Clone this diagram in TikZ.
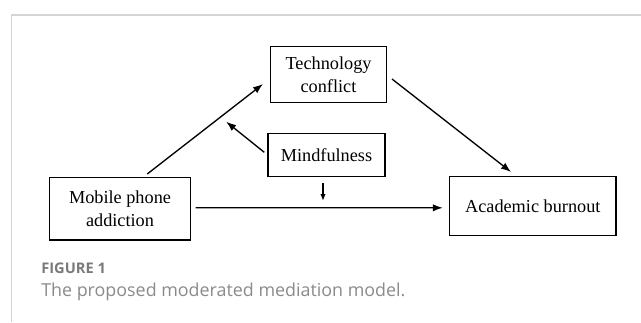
\documentclass[tikz,border=0pt]{standalone}
\usepackage{fontspec}
\setmainfont{Liberation Serif}
\newfontfamily\capfont{Open Sans}
\usetikzlibrary{arrows.meta}
\definecolor{frame}{HTML}{D4D4D4}
\definecolor{capgray}{HTML}{8A8A8A}
\definecolor{figgray}{HTML}{7A7A7A}
\begin{document}
\begin{tikzpicture}[x=0.75pt,y=-0.75pt,
  box/.style={draw,line width=1.1pt,inner sep=0pt,align=center,font=\fontsize{13.7}{17.5}\selectfont},
  arr/.style={line width=1pt,-{Latex[length=7.5pt,width=5.5pt]}},
  smallarr/.style={line width=0.8pt,-{Latex[length=5pt,width=4pt]}}]
\useasboundingbox (0,0) rectangle (641,322);
\draw[frame,line width=0.9pt] (11.5,322) -- (11.5,15) -- (641,15);
\node[box,minimum width=105.75pt,minimum height=47pt] (mob) at (120,208.7) {Mobile phone\\addiction};
\node[box,minimum width=86.8pt,minimum height=42pt] (tech) at (328.5,74.7) {Technology\\conflict};
\node[box,minimum width=87.75pt,minimum height=32.5pt] (mind) at (326.5,155) {Mindfulness};
\node[box,minimum width=124.9pt,minimum height=44pt] (acad) at (532.8,206) {Academic burnout};
\coordinate (a1s) at ([shift={(27.2,-2.6)}]mob.north);
\coordinate (a1e) at ([shift={(-6.9,9.3)}]tech.west);
\coordinate (a2s) at ([shift={(-3,-2.7)}]mind.west);
\coordinate (a2e) at ([shift={(-41.1,-33.3)}]mind.west);
\coordinate (a3s) at ([shift={(4.9,4.3)}]tech.east);
\coordinate (a3e) at ([shift={(-21.8,-4)}]acad.north);
\coordinate (a4s) at ([shift={(4.5,-0.9)}]mob.east);
\coordinate (a4e) at ([shift={(-6,1.8)}]acad.west);
\coordinate (a5s) at ([shift={(-3.5,6)}]mind.south);
\coordinate (a5e) at ([shift={(-3.5,23.3)}]mind.south);
\draw[arr] (a1s) -- (a1e);
\draw[arr] (a2s) -- (a2e);
\draw[arr] (a3s) -- (a3e);
\draw[arr] (a4s) -- (a4e);
\draw[smallarr] (a5s) -- (a5e);
\node[anchor=west,inner sep=0pt,text=figgray,font=\capfont\bfseries\fontsize{11}{13}\selectfont] (cap1) at (41,268) {FIGURE 1};
\node[anchor=west,inner sep=0pt,text=capgray,font=\capfont\fontsize{13.4}{16}\selectfont] (cap2) at (41,292) {The proposed moderated mediation model.};
\end{tikzpicture}
\end{document}
